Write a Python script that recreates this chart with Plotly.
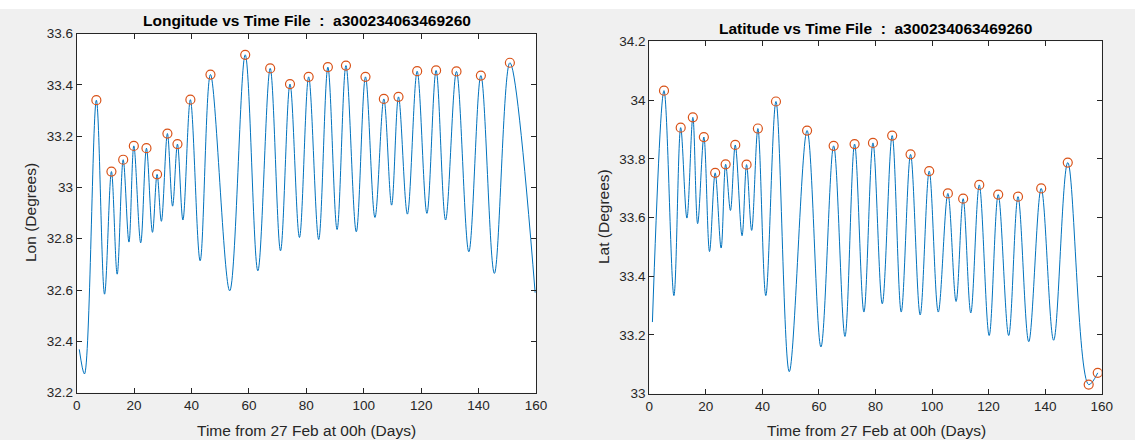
import plotly.graph_objects as go

# ---------------- data ----------------
# Longitude: peaks (circled) and troughs of the curve
lon_peak_t = [6.85, 12.1, 16.2, 19.9, 24.3, 28.0, 31.6, 35.1, 39.6, 46.6, 58.7, 67.4,
              74.3, 80.8, 87.5, 93.8, 100.6, 107.0, 112.1, 118.6, 125.2, 132.3, 140.8, 150.9]
lon_peak_v = [33.340, 33.062, 33.108, 33.162, 33.153, 33.051, 33.210, 33.169, 33.342, 33.440,
              33.517, 33.464, 33.403, 33.431, 33.469, 33.475, 33.431, 33.345, 33.353, 33.453,
              33.456, 33.452, 33.436, 33.486]
lon_trough_t = [0.9, 2.7, 9.7, 14.1, 18.2, 22.3, 26.4, 29.5, 33.4, 37.0, 43.0, 53.3, 63.1,
                71.0, 77.6, 84.3, 90.7, 97.4, 103.9, 109.7, 115.2, 122.0, 128.5, 136.6, 145.5, 159.7]
lon_trough_v = [32.369, 32.273, 32.584, 32.662, 32.787, 32.784, 32.825, 32.868, 32.927, 32.873,
                32.714, 32.597, 32.675, 32.753, 32.805, 32.797, 32.836, 32.827, 32.883, 32.931,
                32.896, 32.899, 32.873, 32.749, 32.665, 32.590]

# Latitude: peaks (circled) and troughs of the curve
lat_peak_t = [5.2, 11.1, 15.4, 19.3, 23.3, 27.0, 30.4, 34.4, 38.4, 44.8, 55.8, 65.2, 72.6,
              79.1, 85.9, 92.4, 99.0, 105.6, 111.0, 116.7, 123.4, 130.4, 138.6, 148.0, 155.4, 158.6]
lat_peak_v = [34.032, 33.906, 33.941, 33.874, 33.752, 33.781, 33.847, 33.780, 33.903, 33.995,
              33.896, 33.844, 33.850, 33.854, 33.879, 33.815, 33.758, 33.682, 33.664, 33.711,
              33.678, 33.671, 33.699, 33.787, 33.031, 33.071]
lat_trough_t = [1.1, 8.7, 13.3, 17.1, 21.3, 25.4, 28.7, 32.8, 36.2, 41.2, 49.5, 60.7, 69.2,
                75.9, 82.4, 89.1, 95.8, 102.2, 108.5, 113.7, 120.2, 127.1, 134.2, 143.0]
lat_trough_v = [33.244, 33.334, 33.598, 33.579, 33.484, 33.496, 33.624, 33.538, 33.556, 33.334,
                33.075, 33.159, 33.195, 33.278, 33.306, 33.278, 33.268, 33.278, 33.314, 33.275,
                33.198, 33.198, 33.177, 33.182]

x_ticks = [0, 20, 40, 60, 80, 100, 120, 140, 160]
lon_ticks = [32.2, 32.4, 32.6, 32.8, 33.0, 33.2, 33.4, 33.6]
lat_ticks = [33.0, 33.2, 33.4, 33.6, 33.8, 34.0, 34.2]

file_id = "a300234063469260"
lon_title = "Longitude vs Time File \u00a0:\u00a0 " + file_id
lat_title = "Latitude vs Time File \u00a0:\u00a0 " + file_id
x_label = "Time from 27 Feb at 00h (Days)"
lon_label = "Lon (Degrees)"
lat_label = "Lat (Degrees)"

# ---------------- build ----------------
def merged(pt, pv, tt, tv):
    pts = sorted(zip(pt + tt, pv + tv))
    return [p[0] for p in pts], [p[1] for p in pts]

lon_t, lon_v = merged(lon_peak_t, lon_peak_v, lon_trough_t, lon_trough_v)
lat_t, lat_v = merged(lat_peak_t, lat_peak_v, lat_trough_t, lat_trough_v)

W, H = 1135, 440
LINE = "#0072BD"
MARK = "#D95319"
TXT = "#262626"
FONT = "Liberation Sans, Arial, Helvetica, sans-serif"

fig = go.Figure()
fig.add_trace(go.Scatter(x=lon_t, y=lon_v, mode="lines", line=dict(color=LINE, width=1, shape="spline", smoothing=1.0),
                         xaxis="x", yaxis="y", showlegend=False, hoverinfo="skip"))
fig.add_trace(go.Scatter(x=lon_peak_t, y=lon_peak_v, mode="markers",
                         marker=dict(symbol="circle-open", size=9, color=MARK, line=dict(width=1.2, color=MARK)),
                         xaxis="x", yaxis="y", showlegend=False))
fig.add_trace(go.Scatter(x=lat_t, y=lat_v, mode="lines", line=dict(color=LINE, width=1, shape="spline", smoothing=1.0),
                         xaxis="x2", yaxis="y2", showlegend=False, hoverinfo="skip"))
fig.add_trace(go.Scatter(x=lat_peak_t, y=lat_peak_v, mode="markers",
                         marker=dict(symbol="circle-open", size=9, color=MARK, line=dict(width=1.2, color=MARK)),
                         xaxis="x2", yaxis="y2", showlegend=False))

# plot boxes in pixels
L = dict(x0=76.7, x1=536.0, y0=33.5, y1=392.7)
R = dict(x0=649.3, x1=1101.7, y0=41.3, y1=393.7)

def xd(b):
    return [b["x0"] / W, b["x1"] / W]

def yd(b):
    return [1 - b["y1"] / H, 1 - b["y0"] / H]

axis_common = dict(showgrid=False, zeroline=False, showline=True, linecolor=TXT, linewidth=1,
                   mirror="ticks", ticks="inside", ticklen=5, tickcolor=TXT, tickwidth=1,
                   automargin=False,
                   tickfont=dict(family=FONT, size=13.5, color=TXT))

fig.update_layout(
    width=W, height=H, autosize=False,
    margin=dict(l=0, r=0, t=0, b=0, pad=0),
    paper_bgcolor="#f0f0f0", plot_bgcolor="white",
    showlegend=False,
    xaxis=dict(domain=xd(L), range=[0, 160], tickvals=x_ticks, anchor="y", **axis_common),
    yaxis=dict(domain=yd(L), range=[32.2, 33.6], tickvals=lon_ticks, anchor="x", **axis_common),
    xaxis2=dict(domain=xd(R), range=[0, 160], tickvals=x_ticks, anchor="y2", **axis_common),
    yaxis2=dict(domain=yd(R), range=[33.0, 34.2], tickvals=lat_ticks, anchor="x2", **axis_common),
)

# white strip at the very top of the screenshot
fig.add_shape(type="rect", xref="paper", yref="paper", x0=0, x1=1, y0=1 - 9 / H, y1=1,
              fillcolor="white", line=dict(width=0), layer="below")

def ann(text, px, py, size, bold=False, angle=0):
    fig.add_annotation(text=("<b>%s</b>" % text) if bold else text,
                       x=px / W, y=1 - py / H, xref="paper", yref="paper",
                       xanchor="center", yanchor="middle", showarrow=False, textangle=angle,
                       font=dict(family=FONT, size=size, color="black" if bold else TXT))

ann(lon_title, 306.5, 20.5, 15.5, bold=True)
ann(lat_title, 875.5, 28.5, 15.5, bold=True)
ann(x_label, 306.5, 430.5, 15.5)
ann(x_label, 876, 430.5, 15.5)
ann(lon_label, 30, 213, 15.5, angle=-90)
ann(lat_label, 603, 217, 15.5, angle=-90)

fig.write_html("out.html",
               config={"displayModeBar": False, "responsive": False},
               post_script="document.body.style.margin='0';document.body.style.overflow='hidden';")
